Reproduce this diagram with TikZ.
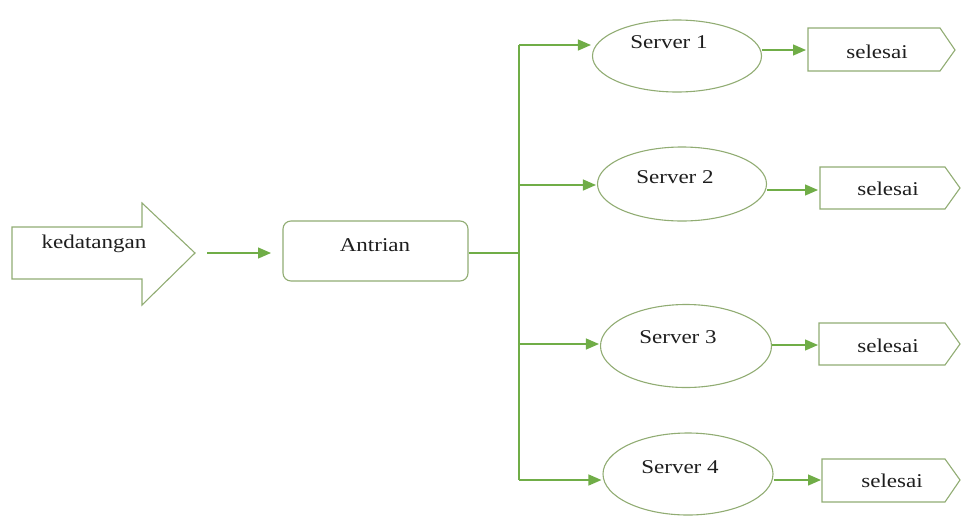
\documentclass[tikz,border=0pt]{standalone}
\usepackage{fontspec}
\usepackage{graphicx}
\setmainfont{Liberation Serif}
\usetikzlibrary{arrows.meta,shapes.geometric}
\definecolor{edge}{RGB}{112,173,71}
\definecolor{outl}{RGB}{145,172,115}
\definecolor{txtc}{RGB}{30,30,30}
\newcommand\wtxt[1]{\scalebox{1.18}[1]{#1}}
\tikzset{
  conn/.style={draw=edge,line width=1.3pt,-{Triangle[length=13pt,width=11pt]}},
  trunk/.style={draw=edge,line width=1.3pt},
  shp/.style={draw=outl,line width=1.1pt},
  srv/.style={ellipse,draw=outl,line width=1.1pt,inner sep=0pt},
  lbl/.style={font=\fontsize{19.5}{22}\selectfont,text=txtc,inner sep=0pt}
}
\begin{document}
\begin{tikzpicture}[x=1pt,y=-1pt]
\useasboundingbox (0,0) rectangle (961,517);
% kedatangan block arrow
\draw[shp] (12,227) -- (142,227) -- (142,203) -- (195,253) -- (142,305) -- (142,279) -- (12,279) -- cycle;
\node[lbl] (ked) at (94,244) {\wtxt{kedatangan}};
\coordinate (kedtip) at (207,253);
\coordinate (antin) at (271,253);
% Antrian
\node[draw=outl,line width=1.1pt,rounded corners=8pt,minimum width=185pt,minimum height=60pt] (antri) at (375.5,251) {};
\node[lbl] at (375,245) {\wtxt{Antrian}};
% servers
\node[srv,minimum width=169pt,minimum height=72pt] (s1) at (677,56) {};
\node[srv,minimum width=169pt,minimum height=74pt] (s2) at (682,184) {};
\node[srv,minimum width=171pt,minimum height=83pt] (s3) at (686,346) {};
\node[srv,minimum width=170pt,minimum height=82pt] (s4) at (688,474) {};
\node[lbl] at (669,42) {\wtxt{Server 1}};
\node[lbl] at (675,177) {\wtxt{Server 2}};
\node[lbl] at (678,337) {\wtxt{Server 3}};
\node[lbl] at (680,467) {\wtxt{Server 4}};
% selesai boxes
\draw[shp] (808,28) -- (940,28) -- (955,50) -- (940,71) -- (808,71) -- cycle;
\draw[shp] (820,167) -- (945,167) -- (960,188) -- (945,209) -- (820,209) -- cycle;
\draw[shp] (819,323) -- (945,323) -- (960,344) -- (945,365) -- (819,365) -- cycle;
\draw[shp] (822,459) -- (945,459) -- (960,480) -- (945,502) -- (822,502) -- cycle;
\node[lbl] (d1) at (877,52) {\wtxt{selesai}};
\node[lbl] (d2) at (888,189) {\wtxt{selesai}};
\node[lbl] (d3) at (888,346) {\wtxt{selesai}};
\node[lbl] (d4) at (892,481) {\wtxt{selesai}};
\coordinate (e1) at (806,50);
\coordinate (e2) at (818,190);
\coordinate (e3) at (818,345);
\coordinate (e4) at (821,480);
% trunk
\coordinate (j0) at (519,253);
\coordinate (j1) at (519,45);
\coordinate (j2) at (519,185);
\coordinate (j3) at (519,344);
\coordinate (j4) at (519,480);
\draw[trunk] (antri.east |- j0) -- (j0);
\draw[trunk] (j1) -- (j4);
% connectors
\draw[conn] (kedtip) -- (antin);
\draw[conn] (j1) -- ([xshift=-1pt]j1 -| s1.west);
\draw[conn] (j2) -- ([xshift=-1pt]j2 -| s2.west);
\draw[conn] (j3) -- ([xshift=-1pt]j3 -| s3.west);
\draw[conn] (j4) -- ([xshift=-1pt]j4 -| s4.west);
\draw[conn] (s1.east |- e1) -- (e1);
\draw[conn] (s2.east |- e2) -- (e2);
\draw[conn] (s3.east |- e3) -- (e3);
\draw[conn] (s4.east |- e4) -- (e4);
\end{tikzpicture}
\end{document}
